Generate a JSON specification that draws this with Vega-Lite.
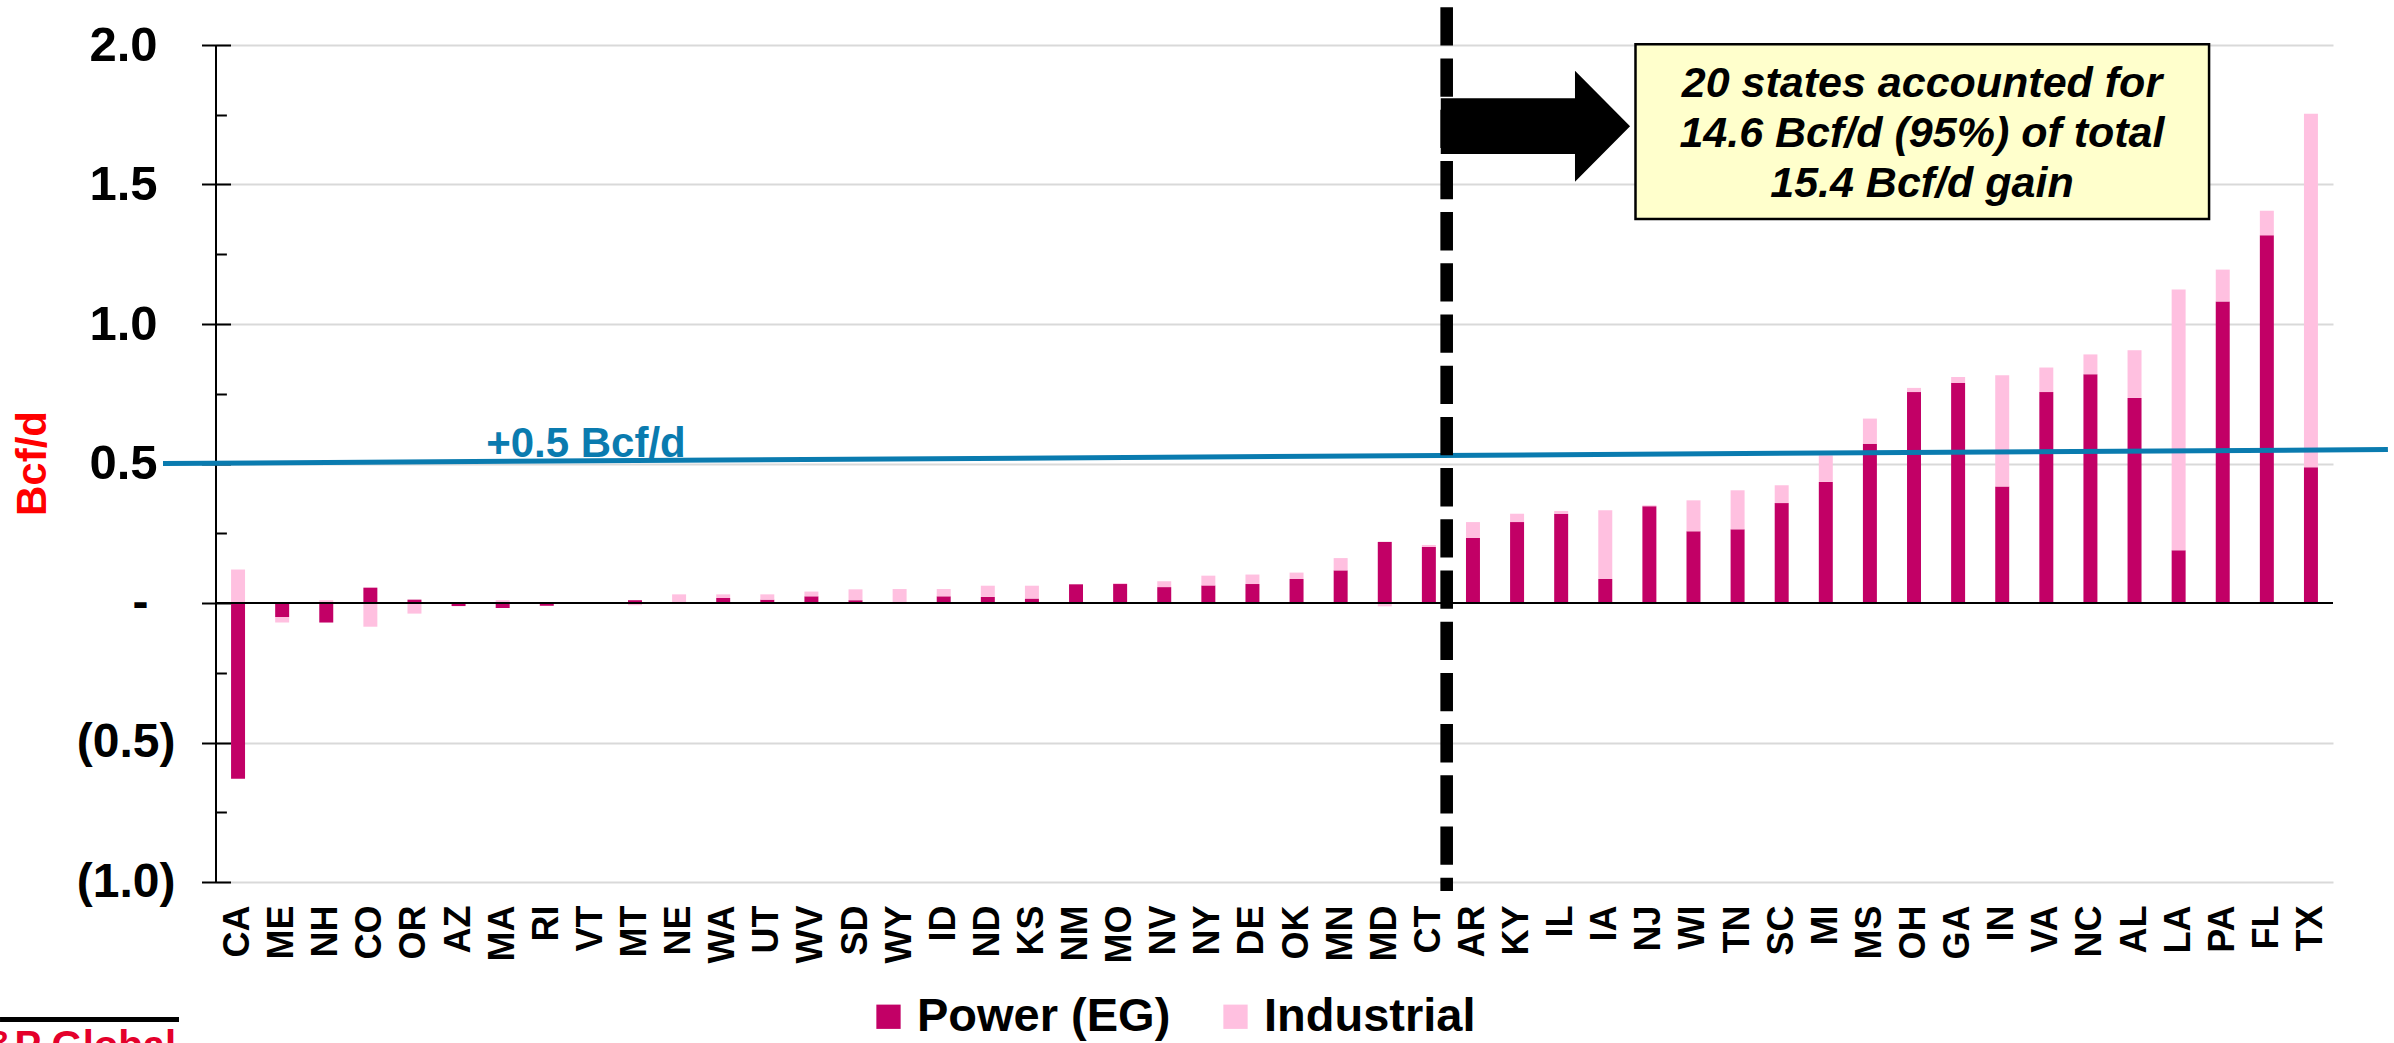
{
  "$schema": "https://vega.github.io/schema/vega-lite/v6.json",
  "width": 2117,
  "height": 837,
  "autosize": "none",
  "padding": {"left": 216, "top": 45, "right": 61, "bottom": 161},
  "background": "white",
  "config": {"view": {"stroke": null}, "font": "Liberation Sans"},
  "data": {"values": [
    {"state": "CA", "type": "Power (EG)", "value": -0.63}, {"state": "CA", "type": "Industrial", "value": 0.12},
    {"state": "ME", "type": "Power (EG)", "value": -0.05}, {"state": "ME", "type": "Industrial", "value": -0.02},
    {"state": "NH", "type": "Power (EG)", "value": -0.07}, {"state": "NH", "type": "Industrial", "value": 0.01},
    {"state": "CO", "type": "Power (EG)", "value": 0.055}, {"state": "CO", "type": "Industrial", "value": -0.085},
    {"state": "OR", "type": "Power (EG)", "value": 0.012}, {"state": "OR", "type": "Industrial", "value": -0.038},
    {"state": "AZ", "type": "Power (EG)", "value": -0.011}, {"state": "AZ", "type": "Industrial", "value": 0},
    {"state": "MA", "type": "Power (EG)", "value": -0.018}, {"state": "MA", "type": "Industrial", "value": 0.01},
    {"state": "RI", "type": "Power (EG)", "value": -0.01}, {"state": "RI", "type": "Industrial", "value": 0.003},
    {"state": "VT", "type": "Power (EG)", "value": 0}, {"state": "VT", "type": "Industrial", "value": 0},
    {"state": "MT", "type": "Power (EG)", "value": 0.01}, {"state": "MT", "type": "Industrial", "value": -0.008},
    {"state": "NE", "type": "Power (EG)", "value": 0}, {"state": "NE", "type": "Industrial", "value": 0.031},
    {"state": "WA", "type": "Power (EG)", "value": 0.018}, {"state": "WA", "type": "Industrial", "value": 0.013},
    {"state": "UT", "type": "Power (EG)", "value": 0.012}, {"state": "UT", "type": "Industrial", "value": 0.019},
    {"state": "WV", "type": "Power (EG)", "value": 0.024}, {"state": "WV", "type": "Industrial", "value": 0.017},
    {"state": "SD", "type": "Power (EG)", "value": 0.01}, {"state": "SD", "type": "Industrial", "value": 0.039},
    {"state": "WY", "type": "Power (EG)", "value": 0}, {"state": "WY", "type": "Industrial", "value": 0.05},
    {"state": "ID", "type": "Power (EG)", "value": 0.024}, {"state": "ID", "type": "Industrial", "value": 0.026},
    {"state": "ND", "type": "Power (EG)", "value": 0.022}, {"state": "ND", "type": "Industrial", "value": 0.04},
    {"state": "KS", "type": "Power (EG)", "value": 0.016}, {"state": "KS", "type": "Industrial", "value": 0.046},
    {"state": "NM", "type": "Power (EG)", "value": 0.067}, {"state": "NM", "type": "Industrial", "value": 0},
    {"state": "MO", "type": "Power (EG)", "value": 0.068}, {"state": "MO", "type": "Industrial", "value": 0.003},
    {"state": "NV", "type": "Power (EG)", "value": 0.057}, {"state": "NV", "type": "Industrial", "value": 0.021},
    {"state": "NY", "type": "Power (EG)", "value": 0.063}, {"state": "NY", "type": "Industrial", "value": 0.035},
    {"state": "DE", "type": "Power (EG)", "value": 0.068}, {"state": "DE", "type": "Industrial", "value": 0.034},
    {"state": "OK", "type": "Power (EG)", "value": 0.086}, {"state": "OK", "type": "Industrial", "value": 0.023},
    {"state": "MN", "type": "Power (EG)", "value": 0.117}, {"state": "MN", "type": "Industrial", "value": 0.044},
    {"state": "MD", "type": "Power (EG)", "value": 0.219}, {"state": "MD", "type": "Industrial", "value": -0.012},
    {"state": "CT", "type": "Power (EG)", "value": 0.201}, {"state": "CT", "type": "Industrial", "value": 0.007},
    {"state": "AR", "type": "Power (EG)", "value": 0.233}, {"state": "AR", "type": "Industrial", "value": 0.057},
    {"state": "KY", "type": "Power (EG)", "value": 0.29}, {"state": "KY", "type": "Industrial", "value": 0.03},
    {"state": "IL", "type": "Power (EG)", "value": 0.32}, {"state": "IL", "type": "Industrial", "value": 0.01},
    {"state": "IA", "type": "Power (EG)", "value": 0.086}, {"state": "IA", "type": "Industrial", "value": 0.246},
    {"state": "NJ", "type": "Power (EG)", "value": 0.347}, {"state": "NJ", "type": "Industrial", "value": 0.003},
    {"state": "WI", "type": "Power (EG)", "value": 0.257}, {"state": "WI", "type": "Industrial", "value": 0.111},
    {"state": "TN", "type": "Power (EG)", "value": 0.264}, {"state": "TN", "type": "Industrial", "value": 0.14},
    {"state": "SC", "type": "Power (EG)", "value": 0.358}, {"state": "SC", "type": "Industrial", "value": 0.064},
    {"state": "MI", "type": "Power (EG)", "value": 0.434}, {"state": "MI", "type": "Industrial", "value": 0.095},
    {"state": "MS", "type": "Power (EG)", "value": 0.571}, {"state": "MS", "type": "Industrial", "value": 0.09},
    {"state": "OH", "type": "Power (EG)", "value": 0.756}, {"state": "OH", "type": "Industrial", "value": 0.015},
    {"state": "GA", "type": "Power (EG)", "value": 0.789}, {"state": "GA", "type": "Industrial", "value": 0.021},
    {"state": "IN", "type": "Power (EG)", "value": 0.418}, {"state": "IN", "type": "Industrial", "value": 0.398},
    {"state": "VA", "type": "Power (EG)", "value": 0.756}, {"state": "VA", "type": "Industrial", "value": 0.088},
    {"state": "NC", "type": "Power (EG)", "value": 0.82}, {"state": "NC", "type": "Industrial", "value": 0.071},
    {"state": "AL", "type": "Power (EG)", "value": 0.735}, {"state": "AL", "type": "Industrial", "value": 0.171},
    {"state": "LA", "type": "Power (EG)", "value": 0.189}, {"state": "LA", "type": "Industrial", "value": 0.935},
    {"state": "PA", "type": "Power (EG)", "value": 1.081}, {"state": "PA", "type": "Industrial", "value": 0.114},
    {"state": "FL", "type": "Power (EG)", "value": 1.318}, {"state": "FL", "type": "Industrial", "value": 0.088},
    {"state": "TX", "type": "Power (EG)", "value": 0.487}, {"state": "TX", "type": "Industrial", "value": 1.267}
  ]},
  "resolve": {"scale": {"x": "independent"}, "axis": {"x": "independent", "y": "independent"}},
  "layer": [
    {
      "mark": {"type": "bar"},
      "encoding": {
        "x": {
          "field": "state", "type": "nominal", "sort": null,
          "scale": {"paddingInner": 0.683, "paddingOuter": 0.3415},
          "axis": {
            "orient": "bottom", "title": null, "ticks": false, "tickSize": 0, "domain": false, "grid": false,
            "labelAngle": 270, "labelFont": "Liberation Sans", "labelFontSize": 36, "labelFontWeight": "bold",
            "labelColor": "black", "labelPadding": 23
          }
        },
        "y": {
          "field": "value", "type": "quantitative", "stack": "zero",
          "scale": {"domain": [-1, 2], "nice": false, "zero": false},
          "axis": {
            "orient": "left", "title": null, "grid": true, "gridColor": "#D9D9D9", "gridWidth": 2,
            "values": [-1, -0.5, 0.5, 1, 1.5, 2], "ticks": false, "labels": false, "domain": false
          }
        },
        "color": {
          "field": "type", "type": "nominal",
          "scale": {"domain": ["Power (EG)", "Industrial"], "range": ["#C20066", "#FFC0E0"]},
          "legend": {
            "orient": "none", "legendX": 649, "legendY": 948, "direction": "horizontal", "title": null,
            "symbolType": "square", "symbolSize": 590, "symbolStrokeWidth": 0, "symbolOpacity": 1,
            "labelFont": "Liberation Sans", "labelFontSize": 47, "labelFontWeight": "bold", "labelColor": "black",
            "labelOffset": 5, "columnPadding": 41, "labelLimit": 400
          }
        },
        "order": {"field": "type", "sort": "descending"}
      }
    },
    {
      "resolve": {"axis": {"y": "independent"}},
      "layer": [
        {
          "data": {"values": [{}]},
          "mark": {"type": "rule", "color": "black", "strokeWidth": 2},
          "encoding": {
            "x": {
              "datum": 0, "type": "quantitative",
              "scale": {"domain": [0, 48], "nice": false, "zero": false},
              "axis": {
                "orient": "bottom", "offset": -290, "title": null, "labels": false, "domain": false, "grid": false,
                "tickSize": 22, "tickWidth": 2, "tickColor": "black",
                "values": [0,1,2,3,4,5,6,7,8,9,10,11,12,13,14,15,16,17,18,19,20,21,22,23,24,25,26,27,28,29,30,31,32,33,34,35,36,37,38,39,40,41,42,43,44,45,46,47,48]
              }
            }
          }
        },
        {
          "data": {"values": [{}]},
          "mark": {"type": "rule", "color": "black", "strokeWidth": 2},
          "encoding": {
            "y": {
              "datum": 0, "type": "quantitative",
              "scale": {"domain": [-1, 2], "nice": false, "zero": false},
              "axis": {
                "orient": "left", "offset": -14.5, "tickSize": 29, "tickWidth": 2, "tickColor": "black",
                "values": [-1, -0.5, 0, 0.5, 1, 1.5, 2], "domain": false, "grid": false,
                "labels": false, "title": null
              }
            }
          }
        },
        {
          "data": {"values": [{}]},
          "mark": {"type": "rule", "opacity": 0},
          "encoding": {
            "y": {
              "datum": 0, "type": "quantitative",
              "scale": {"domain": [-1, 2], "nice": false, "zero": false},
              "axis": {
                "orient": "left", "ticks": false, "tickSize": 0, "domain": false, "grid": false,
                "values": [0.5, 1, 1.5, 2],
                "labelExpr": "format(datum.value, '.1f')",
                "labelFont": "Liberation Sans", "labelFontSize": 49, "labelFontWeight": "bold", "labelColor": "black",
                "labelPadding": 59,
                "title": "Bcf/d", "titleColor": "#FF0000", "titleFont": "Liberation Sans", "titleFontSize": 42,
                "titleFontWeight": "bold", "titleAngle": 270, "titleX": -184, "titleY": 418,
                "titleAlign": "center", "titleBaseline": "middle"
              }
            }
          }
        },
        {
          "data": {"values": [{}]},
          "mark": {"type": "rule", "opacity": 0},
          "encoding": {
            "y": {
              "datum": 0, "type": "quantitative",
              "scale": {"domain": [-1, 2], "nice": false, "zero": false},
              "axis": {
                "orient": "left", "ticks": false, "tickSize": 0, "domain": false, "grid": false,
                "values": [-1, -0.5],
                "labelExpr": "'(' + format(-datum.value, '.1f') + ')'",
                "labelFont": "Liberation Sans", "labelFontSize": 48, "labelFontWeight": "bold", "labelColor": "black",
                "labelPadding": 41, "title": null
              }
            }
          }
        },
        {
          "data": {"values": [{}]},
          "mark": {"type": "rule", "opacity": 0},
          "encoding": {
            "y": {
              "datum": 0, "type": "quantitative",
              "scale": {"domain": [-1, 2], "nice": false, "zero": false},
              "axis": {
                "orient": "left", "ticks": false, "tickSize": 0, "domain": false, "grid": false,
                "values": [0],
                "labelExpr": "'-'",
                "labelFont": "Liberation Sans", "labelFontSize": 48, "labelFontWeight": "bold", "labelColor": "black",
                "labelPadding": 68, "title": null
              }
            }
          }
        },
        {
          "data": {"values": [{}]},
          "mark": {"type": "rule", "opacity": 0},
          "encoding": {
            "y": {
              "datum": 0, "type": "quantitative",
              "scale": {"domain": [-1, 2], "nice": false, "zero": false},
              "axis": {
                "orient": "left", "offset": -10.4, "tickSize": 10.4, "tickWidth": 2, "tickColor": "black",
                "values": [-0.75, -0.25, 0.25, 0.75, 1.25, 1.75], "domain": false, "grid": false,
                "labels": false, "title": null
              }
            }
          }
        },
        {
          "data": {"values": [{}]},
          "mark": {"type": "rule", "color": "#0A7BAF", "strokeWidth": 5},
          "encoding": {
            "x": {"datum": -1.202, "type": "quantitative", "scale": {"domain": [0, 48], "nice": false, "zero": false}, "axis": null},
            "x2": {"datum": 49.245},
            "y": {"datum": 0.5, "type": "quantitative", "scale": {"domain": [-1, 2], "nice": false, "zero": false}, "axis": null},
            "y2": {"datum": 0.55}
          }
        },
        {
          "data": {"values": [{"label": "+0.5 Bcf/d"}]},
          "mark": {"type": "text", "align": "center", "baseline": "alphabetic", "font": "Liberation Sans", "fontSize": 42, "fontWeight": "bold", "color": "#0A7BAF"},
          "encoding": {
            "x": {"datum": 8.389, "type": "quantitative", "scale": {"domain": [0, 48], "nice": false, "zero": false}, "axis": null},
            "y": {"datum": 0.5244, "type": "quantitative", "scale": {"domain": [-1, 2], "nice": false, "zero": false}, "axis": null},
            "text": {"field": "label", "type": "nominal"}
          }
        },
        {
          "data": {"values": [{}]},
          "mark": {"type": "rule", "color": "black", "strokeWidth": 12.6, "strokeDash": [38.3, 12.9]},
          "encoding": {
            "x": {"datum": 27.904, "type": "quantitative", "scale": {"domain": [0, 48], "nice": false, "zero": false}, "axis": null},
            "y": {"datum": 2.1351, "type": "quantitative", "scale": {"domain": [-1, 2], "nice": false, "zero": false}, "axis": null},
            "y2": {"datum": -1.0323}
          }
        },
        {
          "data": {"values": [{}]},
          "mark": {"type": "point", "shape": "M-1,-0.294L0.418,-0.294L0.418,-0.586L1,0L0.418,0.586L0.418,0.294L-1,0.294Z", "size": 35834, "filled": true, "color": "black", "opacity": 1, "strokeWidth": 0},
          "encoding": {
            "x": {"datum": 29.916, "type": "quantitative", "scale": {"domain": [0, 48], "nice": false, "zero": false}, "axis": null},
            "y": {"datum": 1.709, "type": "quantitative", "scale": {"domain": [-1, 2], "nice": false, "zero": false}, "axis": null}
          }
        },
        {
          "data": {"values": [{}]},
          "mark": {"type": "rect", "fill": "#FFFFCC", "stroke": "black", "strokeWidth": 2.5},
          "encoding": {
            "x": {"datum": 32.185, "type": "quantitative", "scale": {"domain": [0, 48], "nice": false, "zero": false}, "axis": null},
            "x2": {"datum": 45.19},
            "y": {"datum": 2.0025, "type": "quantitative", "scale": {"domain": [-1, 2], "nice": false, "zero": false}, "axis": null},
            "y2": {"datum": 1.3763}
          }
        },
        {
          "data": {"values": [{"label": "20 states accounted for\n14.6 Bcf/d (95%) of total\n15.4 Bcf/d gain"}]},
          "mark": {"type": "text", "lineBreak": "\n", "lineHeight": 50, "align": "center", "baseline": "alphabetic", "font": "Liberation Sans", "fontSize": 43, "fontWeight": "bold", "fontStyle": "italic", "color": "black"},
          "encoding": {
            "x": {"datum": 38.68, "type": "quantitative", "scale": {"domain": [0, 48], "nice": false, "zero": false}, "axis": null},
            "y": {"datum": 1.8147, "type": "quantitative", "scale": {"domain": [-1, 2], "nice": false, "zero": false}, "axis": null},
            "text": {"field": "label", "type": "nominal"}
          }
        },
        {
          "data": {"values": [{}]},
          "mark": {"type": "rule", "color": "black", "strokeWidth": 5},
          "encoding": {
            "x": {"datum": -4.897, "type": "quantitative", "scale": {"domain": [0, 48], "nice": false, "zero": false}, "axis": null},
            "x2": {"datum": -0.839},
            "y": {"datum": -1.4928, "type": "quantitative", "scale": {"domain": [-1, 2], "nice": false, "zero": false}, "axis": null}
          }
        },
        {
          "data": {"values": [{"label": "S&P Global"}]},
          "mark": {"type": "text", "align": "right", "baseline": "alphabetic", "font": "Liberation Sans", "fontSize": 40, "fontWeight": "bold", "color": "#E4002B"},
          "encoding": {
            "x": {"datum": -0.907, "type": "quantitative", "scale": {"domain": [0, 48], "nice": false, "zero": false}, "axis": null},
            "y": {"datum": -1.633, "type": "quantitative", "scale": {"domain": [-1, 2], "nice": false, "zero": false}, "axis": null},
            "text": {"field": "label", "type": "nominal"}
          }
        }
      ]
    }
  ]
}
